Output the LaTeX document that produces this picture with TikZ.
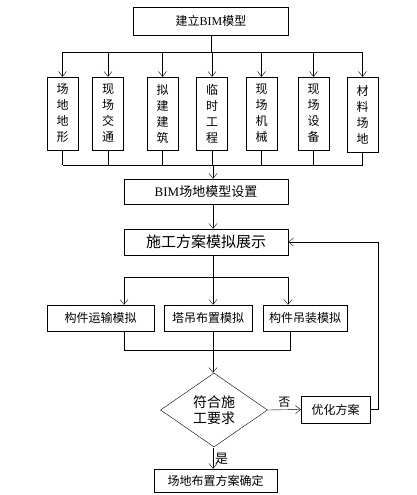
\documentclass[tikz,border=0pt]{standalone}
\usepackage{fontspec}
\setmainfont{Liberation Serif}
\newfontfamily\cjk{Noto Sans CJK SC}
\usepackage{tikz}
\usetikzlibrary{shapes.geometric}
\usetikzlibrary{arrows.meta}

\begin{document}
\begin{tikzpicture}[x=1pt,y=1pt,yscale=-1,xscale=1,
    box/.style={draw, inner sep=0.75pt, font=\cjk\fontsize{12}{14}\selectfont},
    vbox/.style={box, minimum width=31pt, minimum height=73pt, align=center, font=\cjk\fontsize{12}{16}\selectfont},
    simbox/.style={box, minimum height=26pt},
    link/.style={-{Straight Barb[length=5pt,width=8pt]}}]
    \useasboundingbox (0,0) rectangle (416,495);
    \coordinate (axis) at (213,0);
    \coordinate (bus1) at (0,52);
    \coordinate (bus2) at (0,165);
    \coordinate (bus3) at (0,277);
    \coordinate (back) at (378,0);
    % boxes
    \draw (211,21) node [box, minimum width=155pt, minimum height=28pt] (model) {建立{\rmfamily BIM}模型};
    \draw (62.5,113.5) node [vbox] (f1) {场\\地\\地\\形};
    \draw (108,113.5) node [vbox] (f2) {现\\场\\交\\通};
    \draw (162.5,113.5) node [vbox] (f3) {拟\\建\\建\\筑};
    \draw (212,113.5) node [vbox] (f4) {临\\时\\工\\程};
    \draw (261.5,113.5) node [vbox] (f5) {现\\场\\机\\械};
    \draw (313.5,113.5) node [vbox] (f6) {现\\场\\设\\备};
    \draw (362.5,114.5) node [vbox, minimum height=75pt] (f7) {材\\料\\场\\地};
    \draw (206,191.5) node [box, minimum width=164pt, minimum height=25pt, font=\cjk\fontsize{13}{15}\selectfont] (set) {{\rmfamily BIM}场地模型设置};
    \draw (206,242) node [box, minimum width=164pt, minimum height=26pt, font=\cjk\fontsize{15}{17}\selectfont] (show) {施工方案模拟展示};
    \draw (100.5,318) node [simbox, minimum width=107pt] (s1) {构件运输模拟};
    \draw (208,318) node [simbox, minimum width=88pt] (s2) {塔吊布置模拟};
    \draw (305,318) node [simbox, minimum width=84pt] (s3) {构件吊装模拟};
    \draw (214,410) node [draw, diamond, minimum width=107pt, minimum height=65pt, inner sep=0.75pt, align=center, font=\cjk\fontsize{14}{16}\selectfont] (check) {符合施\\工要求};
    \draw (335.5,409.5) node [box, minimum width=69pt, minimum height=27pt] (opt) {优化方案};
    \draw (215.5,480.5) node [box, minimum width=123pt, minimum height=23pt] (final) {场地布置方案确定};
    % top bus
    \draw (model.south) -- (model.south |- bus1);
    \draw (f1.north |- bus1) -- (f7.north |- bus1);
    \draw [link] (f1.north |- bus1) -- (f1.north);
    \draw [link] (f2.north |- bus1) -- (f2.north);
    \draw [link] (f3.north |- bus1) -- (f3.north);
    \draw [link] (f4.north |- bus1) -- (f4.north);
    \draw [link] (f5.north |- bus1) -- (f5.north);
    \draw [link] (f6.north |- bus1) -- (f6.north);
    \draw [link] (f7.north |- bus1) -- (f7.north);
    % bottom bus
    \draw (f1.south) -- (f1.south |- bus2);
    \draw (f2.south) -- (f2.south |- bus2);
    \draw (f3.south) -- (f3.south |- bus2);
    \draw (f4.south) -- (f4.south |- bus2);
    \draw (f5.south) -- (f5.south |- bus2);
    \draw (f6.south) -- (f6.south |- bus2);
    \draw (f7.south) -- (f7.south |- bus2);
    \draw (f1.south |- bus2) -- (f7.south |- bus2);
    \draw [link] (axis |- bus2) -- (set.north -| axis);
    \draw [link] (set.south -| axis) -- (show.north -| axis);
    % simulations
    \coordinate (l3) at (124,277);
    \coordinate (r3) at (288,277);
    \coordinate (l4) at (124,350);
    \coordinate (r4) at (290,350);
    \draw (show.south -| axis) -- (axis |- bus3);
    \draw (l3) -- (r3);
    \draw [link] (l3) -- (s1.north -| l3);
    \draw [link] (axis |- bus3) -- (s2.north -| axis);
    \draw [link] (r3) -- (s3.north -| r3);
    \draw (s1.south -| l4) -- (l4) -- (r4) -- (s3.south -| r4);
    \draw [link] (s2.south -| axis) -- (check.north -| axis);
    % decision
    \draw [link] (check.east) -- (opt.west) node [midway, above, inner sep=2pt, font=\cjk\fontsize{12}{14}\selectfont] (no) {否};
    \draw [link] (opt.east) -- (opt.east -| back) -- (show.east -| back) -- (show.east);
    \coordinate (yes0) at (213,448);
    \draw [link] (yes0) -- (final.north -| yes0) node [midway, right, inner sep=2pt, font=\cjk\fontsize{13}{15}\selectfont] (yes) {是};
\end{tikzpicture}
\end{document}
